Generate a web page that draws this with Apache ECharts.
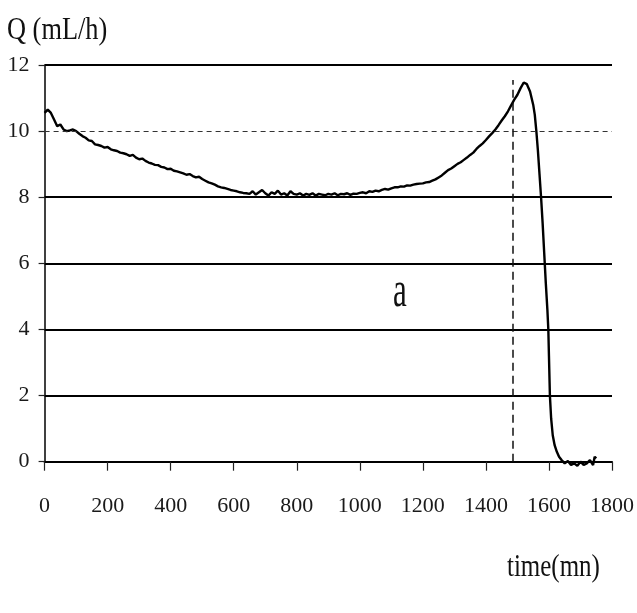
<!DOCTYPE html>
<html>
<head>
<meta charset="utf-8">
<script src="https://cdn.jsdelivr.net/npm/echarts@6/dist/echarts.min.js"></script>
<style>
html,body{margin:0;padding:0;background:#fff;}
#c{width:637px;height:613px;}
</style>
</head>
<body>
<div id="c"></div>
<script>
// ---- data ----
var times = [0,10,20,30,40,50,60,70,80,90,100,110,120,130,140,150,160,170,180,190,
  200,210,220,230,240,250,260,270,280,290,300,310,320,330,340,350,360,370,380,390,
  400,410,420,430,440,450,460,470,480,490,500,510,520,530,540,550,560,570,580,590,
  600,610,620,630,640,650,660,670,680,690,700,710,720,730,740,750,760,770,780,790,
  800,810,820,830,840,850,860,870,880,890,900,910,920,930,940,950,960,970,980,990,
  1000,1010,1020,1030,1040,1050,1060,1070,1080,1090,1100,1110,1120,1130,1140,1150,1160,1170,1180,1190,
  1200,1210,1220,1230,1240,1250,1260,1270,1280,1290,1300,1310,1320,1330,1340,1350,1360,1370,1380,1390,
  1400,1410,1420,1430,1440,1450,1460,1470,1480,1490,1500,1510,1520,1525,1530,1540,1550,1555,1560,1565,
  1570,1575,1580,1585,1590,1595,1598,1600,1603,1607,1612,1618,1625,1632,1640,1650,1660,1670,1680,1690,
  1700,1710,1720,1730,1740,1745,1750];
var flow = [10.55,10.65,10.55,10.35,10.15,10.2,10.05,10.0,10.02,10.05,10.0,9.92,9.85,9.8,9.72,9.7,9.6,9.58,9.55,9.5,
  9.52,9.45,9.42,9.4,9.35,9.33,9.3,9.25,9.28,9.2,9.15,9.17,9.1,9.05,9.02,8.98,8.97,8.92,8.9,8.85,
  8.86,8.8,8.78,8.75,8.72,8.68,8.7,8.64,8.6,8.62,8.55,8.5,8.45,8.42,8.38,8.33,8.3,8.28,8.25,8.22,
  8.2,8.18,8.15,8.13,8.12,8.1,8.18,8.08,8.15,8.22,8.12,8.05,8.15,8.1,8.2,8.08,8.12,8.05,8.18,8.1,
  8.08,8.12,8.05,8.1,8.07,8.12,8.05,8.1,8.08,8.06,8.1,8.08,8.12,8.06,8.1,8.09,8.12,8.07,8.11,8.1,
  8.13,8.15,8.12,8.18,8.16,8.2,8.18,8.22,8.25,8.23,8.27,8.3,8.3,8.33,8.32,8.36,8.35,8.38,8.4,8.41,
  8.42,8.45,8.46,8.5,8.54,8.6,8.66,8.74,8.82,8.87,8.94,9.01,9.06,9.13,9.2,9.28,9.35,9.46,9.55,9.63,
  9.73,9.84,9.94,10.05,10.18,10.32,10.45,10.6,10.78,10.95,11.1,11.3,11.47,11.5,11.42,11.2,10.8,10.5,10.0,9.4,
  8.7,8.0,7.2,6.3,5.4,4.6,4.0,3.2,2.0,1.3,0.8,0.5,0.3,0.15,0.05,-0.05,0.02,-0.1,-0.05,-0.12,
  0.0,-0.1,-0.05,0.05,-0.1,0.15,0.1];
var xTicks = [0,200,400,600,800,1000,1200,1400,1600,1800];
var yTicks = [0,2,4,6,8,10,12];
var solidLevels = [2,4,6,8,12];
var dashedLevels = [10];
var markerTime = 1484;
var markerTop = 11.55;
var yTitle = 'Q (mL/h)';
var xTitle = 'time(mn)';
var curveLabel = 'a';

var seriesData = times.map(function(t,i){return [t, flow[i]];});
var font = 'Liberation Serif';

var markData = [];
solidLevels.forEach(function(v){
  markData.push({yAxis: v, lineStyle:{type:'solid', color:'#000', width:2}});
});
dashedLevels.forEach(function(v){
  markData.push({yAxis: v, lineStyle:{type:[5,4], color:'#333', width:1}});
});
markData.push([{coord:[markerTime,0], lineStyle:{type:[8,5], color:'#111', width:1.5}},{coord:[markerTime,markerTop]}]);

var chart = echarts.init(document.getElementById('c'), null, {renderer:'canvas'});
chart.setOption({
  animation:false,
  backgroundColor:'#fff',
  grid:{left:44.6, right:21, top:65, bottom:151.3, containLabel:false},
  xAxis:{
    type:'value', min:0, max:1800, interval:200,
    axisLine:{show:true, onZero:false, lineStyle:{color:'#000', width:2}},
    axisTick:{show:true, length:9, lineStyle:{color:'#222', width:1.2}},
    axisLabel:{show:true, margin:34, fontFamily:font, fontSize:22, color:'#1a1a1a',
      formatter:function(v){ return xTicks.indexOf(v) >= 0 ? String(v) : ''; }},
    splitLine:{show:false}
  },
  yAxis:{
    type:'value', min:0, max:12, interval:2,
    axisLine:{show:true, lineStyle:{color:'#000', width:1.5}},
    axisTick:{show:true, length:6, lineStyle:{color:'#222', width:1.2}},
    axisLabel:{show:true, margin:15, fontFamily:font, fontSize:22, color:'#1a1a1a',
      formatter:function(v){ return yTicks.indexOf(v) >= 0 ? String(v) : ''; }},
    splitLine:{show:false}
  },
  series:[{
    type:'line', data:seriesData, showSymbol:false, clip:false,
    lineStyle:{color:'#000', width:2.4},
    markLine:{silent:true, symbol:['none','none'], label:{show:false}, data:markData}
  }],
  graphic:[
    {type:'text', x:7, y:31, scaleX:0.85, style:{text:yTitle, fontFamily:font, fontSize:31, fill:'#111', align:'left', verticalAlign:'middle'}},
    {type:'text', x:507, y:568, scaleX:0.78, style:{text:xTitle, fontFamily:font, fontSize:32, fill:'#111', align:'left', verticalAlign:'middle'}},
    {type:'text', x:400, y:293, scaleX:0.62, style:{text:curveLabel, fontFamily:font, fontSize:50, fill:'#111', align:'center', verticalAlign:'middle'}}
  ]
});
</script>
</body>
</html>
